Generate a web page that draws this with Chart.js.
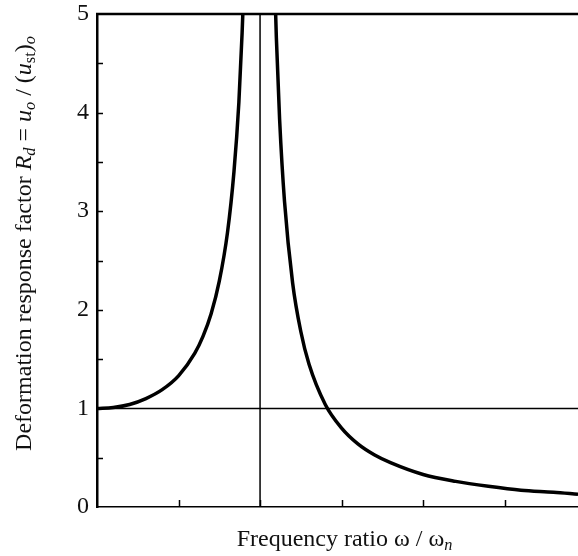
<!DOCTYPE html>
<html>
<head>
<meta charset="utf-8">
<script src="https://cdn.jsdelivr.net/npm/chart.js@4.4.1/dist/chart.umd.min.js"></script>
<style>
  html, body { margin: 0; padding: 0; background: #fff; }
  canvas { display: block; }
</style>
</head>
<body>
<canvas id="responseChart" width="578" height="556"></canvas>
<script>
// frequency ratio below resonance and the response
const ratioBelow = [0, 0.1, 0.2, 0.3, 0.4, 0.5, 0.6, 0.65, 0.7, 0.75, 0.8, 0.84, 0.87, 0.89, 0.9];
const responseBelow = [1.00, 1.01, 1.04, 1.10, 1.19, 1.33, 1.56, 1.73, 1.96, 2.29, 2.78, 3.40, 4.10, 4.81, 5.26];

// above resonance
const ratioAbove = [1.09, 1.1, 1.12, 1.15, 1.2, 1.25, 1.3, 1.4, 1.5, 1.6, 1.7, 1.8, 2.0, 2.2, 2.4, 2.6, 2.8, 2.95];
const responseAbove = [5.32, 4.76, 3.93, 3.10, 2.27, 1.78, 1.45, 1.04, 0.80, 0.64, 0.53, 0.45, 0.33, 0.26, 0.21, 0.17, 0.15, 0.13];

// reference lines: resonance (ratio = 1) and static response (Rd = 1)
const resonanceX = [1, 1];
const resonanceY = [0, 5];
const staticX = [0, 2.95];
const staticY = [1, 1];

// axis ranges and inward tick marks
const xRange = [0, 2.95];
const yRange = [0, 5];
const xTickMarks = [0.5, 1, 1.5, 2, 2.5];
const yTickMarks = [0.5, 1, 1.5, 2, 2.5, 3, 3.5, 4, 4.5];

const toPoints = (xs, ys) => xs.map((x, i) => ({ x: x, y: ys[i] }));

const serif = '"Liberation Serif", "DejaVu Serif", serif';

// draws text pieces one after another, with italics and subscripts
function drawRich(ctx, parts, size) {
    let total = 0;
    parts.forEach(p => {
        const s = p.sub ? size * 0.68 : size;
        ctx.font = (p.it ? "italic " : "") + s + "px " + serif;
        p.w = ctx.measureText(p.t).width;
        total += p.w;
    });
    let x = -total / 2;
    parts.forEach(p => {
        const s = p.sub ? size * 0.68 : size;
        ctx.font = (p.it ? "italic " : "") + s + "px " + serif;
        ctx.fillText(p.t, x, p.sub ? size * 0.22 : 0);
        x += p.w;
    });
}

const framePlugin = {
    id: "frame",
    afterDraw(chart) {
        const ctx = chart.ctx;
        const area = chart.chartArea;
        const xs = chart.scales.x;
        const ys = chart.scales.y;
        ctx.save();
        ctx.strokeStyle = "#000";

        // top border
        ctx.lineWidth = 2.5;
        ctx.beginPath();
        ctx.moveTo(area.left - 1, area.top);
        ctx.lineTo(area.right, area.top);
        ctx.stroke();

        // inward ticks
        ctx.lineWidth = 1.5;
        ctx.beginPath();
        xTickMarks.forEach(v => {
            const px = Math.round(xs.getPixelForValue(v)) + 0.5;
            ctx.moveTo(px, area.bottom);
            ctx.lineTo(px, area.bottom - 7);
        });
        yTickMarks.forEach(v => {
            const py = Math.round(ys.getPixelForValue(v)) + 0.5;
            ctx.moveTo(area.left, py);
            ctx.lineTo(area.left + 6, py);
        });
        ctx.stroke();

        // axis titles
        ctx.fillStyle = "#111";
        ctx.textBaseline = "middle";
        ctx.textAlign = "left";

        ctx.save();
        ctx.translate((area.left + area.right) / 2 + 7, 540);
        drawRich(ctx, [
            { t: "Frequency ratio \u03c9 / \u03c9" },
            { t: "n", it: true, sub: true }
        ], 24);
        ctx.restore();

        ctx.save();
        ctx.translate(25, (area.top + area.bottom) / 2 - 17);
        ctx.rotate(-Math.PI / 2);
        drawRich(ctx, [
            { t: "Deformation response factor " },
            { t: "R", it: true },
            { t: "d", it: true, sub: true },
            { t: " = " },
            { t: "u", it: true },
            { t: "o", it: true, sub: true },
            { t: " / (" },
            { t: "u", it: true },
            { t: "st", sub: true },
            { t: ")" },
            { t: "o", it: true, sub: true }
        ], 24);
        ctx.restore();

        ctx.restore();
    }
};

const ctx = document.getElementById("responseChart").getContext("2d");
new Chart(ctx, {
    type: "line",
    data: {
        datasets: [
            {
                data: toPoints(ratioBelow, responseBelow),
                borderColor: "#000",
                borderWidth: 3.5,
                pointRadius: 0,
                cubicInterpolationMode: "monotone",
                clip: 0,
            },
            {
                data: toPoints(ratioAbove, responseAbove),
                borderColor: "#000",
                borderWidth: 3.5,
                pointRadius: 0,
                cubicInterpolationMode: "monotone",
                clip: 0,
            },
            {
                data: toPoints(resonanceX, resonanceY),
                borderColor: "#000",
                borderWidth: 1.5,
                pointRadius: 0,
            },
            {
                data: toPoints(staticX, staticY),
                borderColor: "#000",
                borderWidth: 1.5,
                pointRadius: 0,
            },
        ],
    },
    options: {
        responsive: false,
        animation: false,
        devicePixelRatio: 1,
        layout: { padding: { top: 14, right: 0, left: 0, bottom: 0 } },
        plugins: {
            legend: { display: false },
            tooltip: { enabled: false },
        },
        scales: {
            x: {
                type: "linear",
                min: xRange[0],
                max: xRange[1],
                grid: { display: false, drawTicks: false },
                border: { display: true, color: "#000", width: 1.5 },
                ticks: { display: false },
                afterFit: (scale) => { scale.height = 49; },
            },
            y: {
                type: "linear",
                min: yRange[0],
                max: yRange[1],
                grid: { display: false, drawTicks: false },
                border: { display: true, color: "#000", width: 2.5 },
                ticks: {
                    stepSize: 1,
                    padding: 8,
                    color: "#111",
                    font: { family: serif, size: 24 },
                },
                afterFit: (scale) => {
                    scale.width = 97;
                    scale.paddingTop = 0;
                    scale.paddingBottom = 0;
                },
            },
        },
    },
    plugins: [framePlugin],
});
</script>
</body>
</html>
